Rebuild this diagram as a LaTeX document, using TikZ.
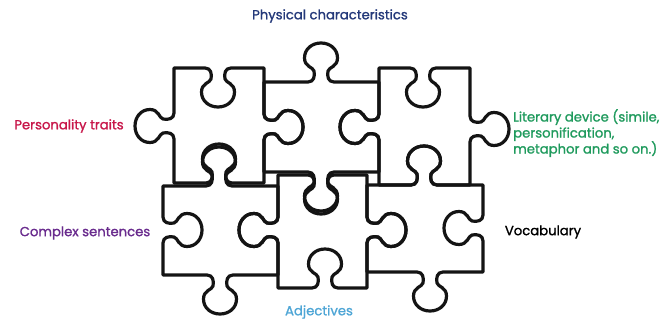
\documentclass[tikz,border=0pt]{standalone}
\usepackage{fontspec}
\setmainfont{Poppins}
\newfontfamily\lblfont{Poppins}[FakeBold=1.2]
\newcommand\jtab[6]{%
-- ({#1+(#3)*(-13)},{#2+(#4)*(-13)})
.. controls ({#1+(#3)*(-7)},{#2+(#4)*(-7)}) and ({#1+(#3)*(-6)+(#5)*6},{#2+(#4)*(-6)+(#6)*6})
.. ({#1+(#3)*(-7)+(#5)*11},{#2+(#4)*(-7)+(#6)*11})
.. controls ({#1+(#3)*(-8)+(#5)*15},{#2+(#4)*(-8)+(#6)*15}) and ({#1+(#3)*(-16.5)+(#5)*15},{#2+(#4)*(-16.5)+(#6)*15})
.. ({#1+(#3)*(-16.5)+(#5)*24},{#2+(#4)*(-16.5)+(#6)*24})
.. controls ({#1+(#3)*(-16.5)+(#5)*33},{#2+(#4)*(-16.5)+(#6)*33}) and ({#1+(#3)*(-9)+(#5)*39},{#2+(#4)*(-9)+(#6)*39})
.. ({#1+(#5)*39},{#2+(#6)*39})
.. controls ({#1+(#3)*9+(#5)*39},{#2+(#4)*9+(#6)*39}) and ({#1+(#3)*16.5+(#5)*33},{#2+(#4)*16.5+(#6)*33})
.. ({#1+(#3)*16.5+(#5)*24},{#2+(#4)*16.5+(#6)*24})
.. controls ({#1+(#3)*16.5+(#5)*15},{#2+(#4)*16.5+(#6)*15}) and ({#1+(#3)*8+(#5)*15},{#2+(#4)*8+(#6)*15})
.. ({#1+(#3)*7+(#5)*11},{#2+(#4)*7+(#6)*11})
.. controls ({#1+(#3)*6+(#5)*6},{#2+(#4)*6+(#6)*6}) and ({#1+(#3)*7},{#2+(#4)*7})
.. ({#1+(#3)*13},{#2+(#4)*13})
}
\definecolor{cNavy}{HTML}{24397A}
\definecolor{cRed}{HTML}{C8174A}
\definecolor{cGreen}{HTML}{1E9A5C}
\definecolor{cPurple}{HTML}{6A2C8E}
\definecolor{cSky}{HTML}{4FA6D6}
\definecolor{cInk}{HTML}{141414}
\tikzset{
  piece/.style={draw=cInk, line width=3.2pt, line join=round},
  lbl/.style={inner sep=0pt, font=\lblfont\fontsize{13.2}{16}\selectfont},
}
\begin{document}
\begin{tikzpicture}[x=1pt,y=-1pt]
\useasboundingbox[fill=white] (0,0) rectangle (661,321);
% top row
\draw[piece] (174,68) \jtab{218}{68}{1}{0}{0}{1} -- (264,68) \jtab{264}{127}{0}{1}{1}{0} -- (264,183) \jtab{219}{183}{-1}{0}{0}{-1} -- (174,183) \jtab{174}{126}{0}{-1}{-1}{0} -- cycle;
\draw[piece] (264,82) \jtab{321}{82}{1}{0}{0}{-1} -- (379,82) \jtab{379}{127}{0}{1}{-1}{0} -- (379,172) \jtab{321}{172}{-1}{0}{0}{1} -- (264,172) \jtab{264}{127}{0}{-1}{1}{0} -- cycle;
\draw[piece] (379,68) \jtab{423}{68}{1}{0}{0}{1} -- (470,68) \jtab{470}{129}{0}{1}{1}{0} -- (470,185) \jtab{424}{185}{-1}{0}{0}{-1} -- (379,185) \jtab{379}{127}{0}{-1}{-1}{0} -- cycle;
% bottom row
\draw[piece] (163,186) \jtab{219}{186}{1}{0}{0}{-1} -- (278,186) \jtab{278}{230}{0}{1}{-1}{0} -- (278,275) \jtab{220}{275}{-1}{0}{0}{1} -- (163,275) \jtab{163}{230}{0}{-1}{1}{0} -- cycle;
\draw[piece] (278,175) \jtab{321}{175}{1}{0}{0}{1} -- (367,175) \jtab{367}{230}{0}{1}{1}{0} -- (367,288) \jtab{325}{288}{-1}{0}{0}{-1} -- (278,288) \jtab{278}{230}{0}{-1}{-1}{0} -- cycle;
\draw[piece] (367,185) \jtab{424}{185}{1}{0}{0}{-1} -- (483,185) \jtab{483}{228}{0}{1}{-1}{0} -- (483,272) \jtab{430}{272}{-1}{0}{0}{1} -- (367,272) \jtab{367}{230}{0}{-1}{1}{0} -- cycle;
% labels
\node[lbl, text=cNavy] (phys) at (330,16) {Physical characteristics};
\node[lbl, text=cRed] (pers) at (69,126) {Personality traits};
\node[lbl, text=cGreen, anchor=north west, align=left] (lit) at (513,109) {Literary device (simile,\\personification,\\metaphor and so on.)};
\node[lbl, text=cPurple] (comp) at (85,233) {Complex sentences};
\node[lbl, text=black] (voc) at (543,232) {Vocabulary};
\node[lbl, text=cSky] (adj) at (319,312) {Adjectives};
\end{tikzpicture}
\end{document}
